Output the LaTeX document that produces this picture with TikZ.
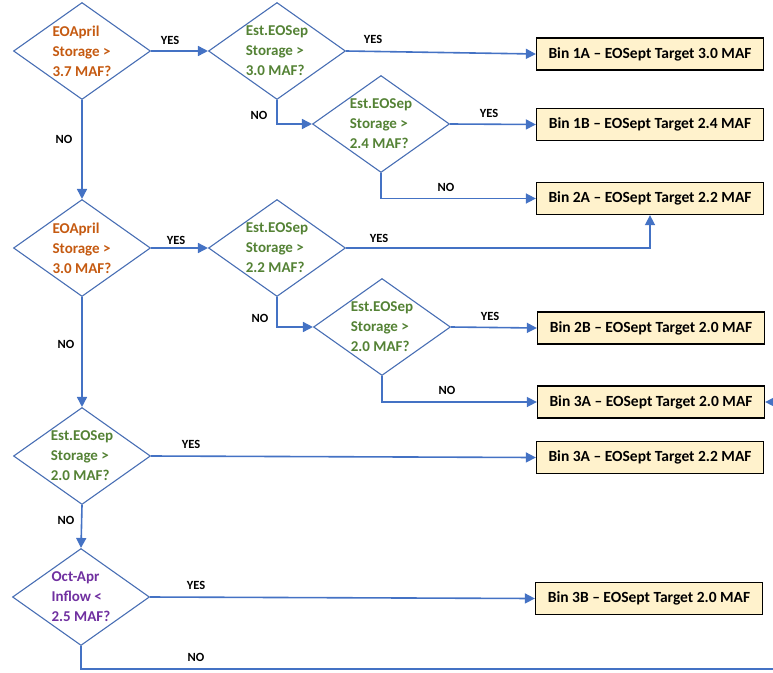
\documentclass[tikz,border=0pt]{standalone}
\usepackage{fontspec}
\setmainfont{Carlito}
\usetikzlibrary{arrows.meta,shapes.geometric}

\definecolor{arrowblue}{RGB}{68,114,196}
\definecolor{edgeblue}{RGB}{72,110,180}
\definecolor{aprilorange}{RGB}{197,90,17}
\definecolor{sepgreen}{RGB}{84,130,53}
\definecolor{inflowpurple}{RGB}{112,48,160}
\definecolor{binfill}{RGB}{255,242,204}

\begin{document}
\begin{tikzpicture}[x=1pt,y=-1pt,
        decision/.style={diamond,draw=edgeblue,line width=1.1pt,inner sep=-4pt,
            shape aspect=1.41,minimum width=137pt,minimum height=97pt,align=left,
            font=\bfseries\fontsize{15}{20}\selectfont},
        bin/.style={draw=black,line width=1.3pt,fill=binfill,
            minimum width=227pt,minimum height=32pt,
            font=\bfseries\fontsize{15.5}{17}\selectfont},
        flow/.style={arrowblue,line width=1.6pt,-{Triangle[length=10pt,width=10pt]}},
        answer/.style={font=\bfseries\fontsize{12.5}{14}\selectfont}]

        \useasboundingbox (0,0) rectangle (773,672);

        % decisions
        \node[decision,text=aprilorange] (apr37) at (82,51) {EOApril\\Storage >\\3.7 MAF?};
        \node[decision,text=sepgreen] (sep30) at (277,51) {Est.EOSep\\Storage >\\3.0 MAF?};
        \node[decision,text=sepgreen] (sep24) at (381,124) {Est.EOSep\\Storage >\\2.4 MAF?};
        \node[decision,text=aprilorange] (apr30) at (82,248) {EOApril\\Storage >\\3.0 MAF?};
        \node[decision,text=sepgreen] (sep22) at (277,248) {Est.EOSep\\Storage >\\2.2 MAF?};
        \node[decision,text=sepgreen] (sep20a) at (382,327) {Est.EOSep\\Storage >\\2.0 MAF?};
        \node[decision,text=sepgreen] (sep20b) at (82,456) {Est.EOSep\\Storage >\\2.0 MAF?};
        \node[decision,text=inflowpurple] (inflow) at (81,597) {Oct-Apr\\Inflow <\\2.5 MAF?};

        % bins
        \node[bin] (bin1a) at (650,54) {Bin 1A -- EOSept Target 3.0 MAF};
        \node[bin] (bin1b) at (650,124.5) {Bin 1B -- EOSept Target 2.4 MAF};
        \node[bin] (bin2a) at (650,198.5) {Bin 2A -- EOSept Target 2.2 MAF};
        \node[bin] (bin2b) at (651,328) {Bin 2B -- EOSept Target 2.0 MAF};
        \node[bin] (bin3a) at (651,402) {Bin 3A -- EOSept Target 2.0 MAF};
        \node[bin] (bin3aa) at (650,457.5) {Bin 3A -- EOSept Target 2.2 MAF};
        \node[bin] (bin3b) at (649,598.5) {Bin 3B -- EOSept Target 2.0 MAF};

        % connectors
        \draw[flow] (apr37.east) -- (sep30.west);
        \draw[flow] (sep30.east) -- (bin1a.west);
        \draw[flow] (sep30.south) |- (sep24.west);
        \draw[flow] (sep24.east) -- (bin1b.west);
        \draw[flow] (sep24.south) |- (bin2a.west);
        \draw[flow] (apr37.south) -- (apr30.north);
        \draw[flow] (apr30.east) -- (sep22.west);
        \draw[flow] (sep22.east) -| (bin2a.south);
        \draw[flow] (sep22.south) |- (sep20a.west);
        \draw[flow] (sep20a.east) -- (bin2b.west);
        \draw[flow] (sep20a.south) |- (bin3a.west);
        \draw[flow] (apr30.south) -- (sep20b.north);
        \draw[flow] (sep20b.east) -- (bin3aa.west);
        \draw[flow] (sep20b.south) -- (inflow.north);
        \draw[flow] (inflow.east) -- (bin3b.west);

        % loop back off the right edge
        \coordinate (loopback) at (790,669);
        \draw[flow] (inflow.south) |- (loopback) |- (bin3a.east);

        % answers
        \foreach \lbl/\px/\py [count=\i] in {YES/170/40,YES/373/39,YES/489/113,
                YES/176/240,YES/379/238,YES/490/316,YES/191/444,YES/196/585,
                NO/259/115,NO/446/187,NO/64/139,NO/260/318,NO/447/390,
                NO/66/344,NO/66/520,NO/196/657}
            \node[answer] (ans\i) at (\px,\py) {\lbl};
    \end{tikzpicture}
\end{document}
